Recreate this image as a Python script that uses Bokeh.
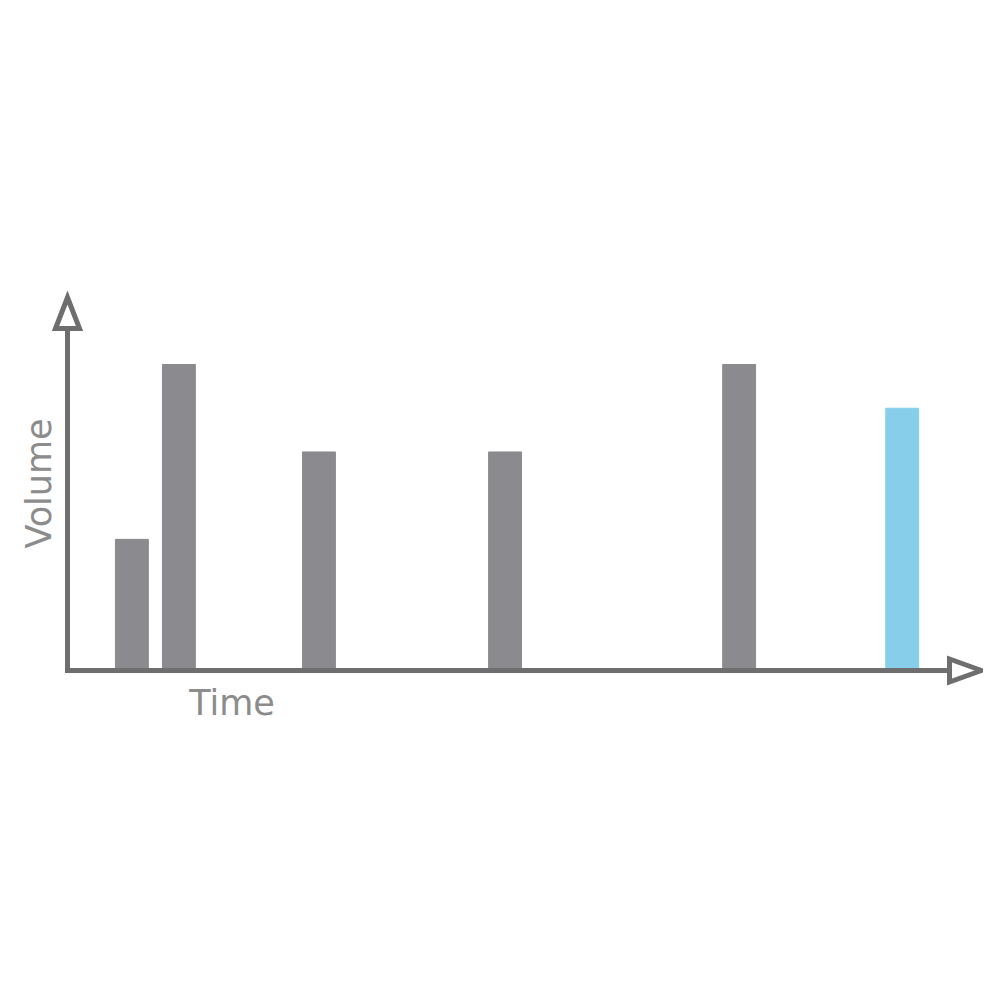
import math
from bokeh.plotting import figure
from bokeh.models import Range1d, Label, ColumnDataSource
from bokeh.embed import file_html
from bokeh.resources import INLINE

# ---- data ----
times = [1.37, 2.37, 5.35, 9.31, 14.29, 17.76]
volumes = [3, 7, 5, 5, 7, 6]
highlight = [False, False, False, False, False, True]
x_label = "Time"
y_label = "Volume"

GRAY_BAR = "#8b8a8e"
BLUE_BAR = "#87ceeb"
AXIS_COL = "#6e6e6e"
TEXT_COL = "#8c8c8c"

W = H = 983
XPX = 47.0    # px per time unit
YPX = 43.71   # px per volume unit
ORIGIN_X = 67   # origin in canvas px from left
ORIGIN_Y = 670  # origin in canvas px from top

x0 = -ORIGIN_X / XPX
y0 = -(H - ORIGIN_Y) / YPX

p = figure(width=W, height=H, output_backend="svg", toolbar_location=None,
           x_range=Range1d(x0, x0 + W / XPX), y_range=Range1d(y0, y0 + H / YPX),
           min_border=0, outline_line_color=None)
p.axis.visible = False
p.grid.visible = False
p.min_border_left = p.min_border_right = p.min_border_top = p.min_border_bottom = 0

colors = [BLUE_BAR if h else GRAY_BAR for h in highlight]
src = ColumnDataSource(dict(x=times, top=volumes, color=colors))
p.vbar(x="x", top="top", bottom=0, width=0.70, color="color", source=src)

def dx(px):
    return px / XPX

def dy(px):
    return px / YPX

# axis lines
y_axis_top = dy(670 - 328)
x_axis_end = dx(949 - 67)
p.line([0, 0], [0, y_axis_top], line_color=AXIS_COL, line_width=5, line_cap="square")
p.line([0, x_axis_end], [0, 0], line_color=AXIS_COL, line_width=5, line_cap="square")

# arrow heads (open triangles)
p.patch([-dx(12), 0, dx(12)], [y_axis_top, dy(670 - 297), y_axis_top],
        fill_color="white", line_color=AXIS_COL, line_width=5, line_join="miter")
p.patch([x_axis_end, dx(981 - 67), x_axis_end], [dy(11.5), 0, -dy(11.5)],
        fill_color="white", line_color=AXIS_COL, line_width=5, line_join="miter")

# labels
p.add_layout(Label(x=dx(231.5 - 67), y=-dy(32), text=x_label,
                   text_align="center", text_baseline="alphabetic",
                   text_font="DejaVu Sans", text_font_size="35px", text_color=TEXT_COL))
p.add_layout(Label(x=-dx(29), y=dy(670 - 483), text=y_label, angle=math.pi / 2,
                   text_align="center", text_baseline="alphabetic",
                   text_font="DejaVu Sans", text_font_size="35px", text_color=TEXT_COL))

open("out.html", "w").write(file_html(p, INLINE))
